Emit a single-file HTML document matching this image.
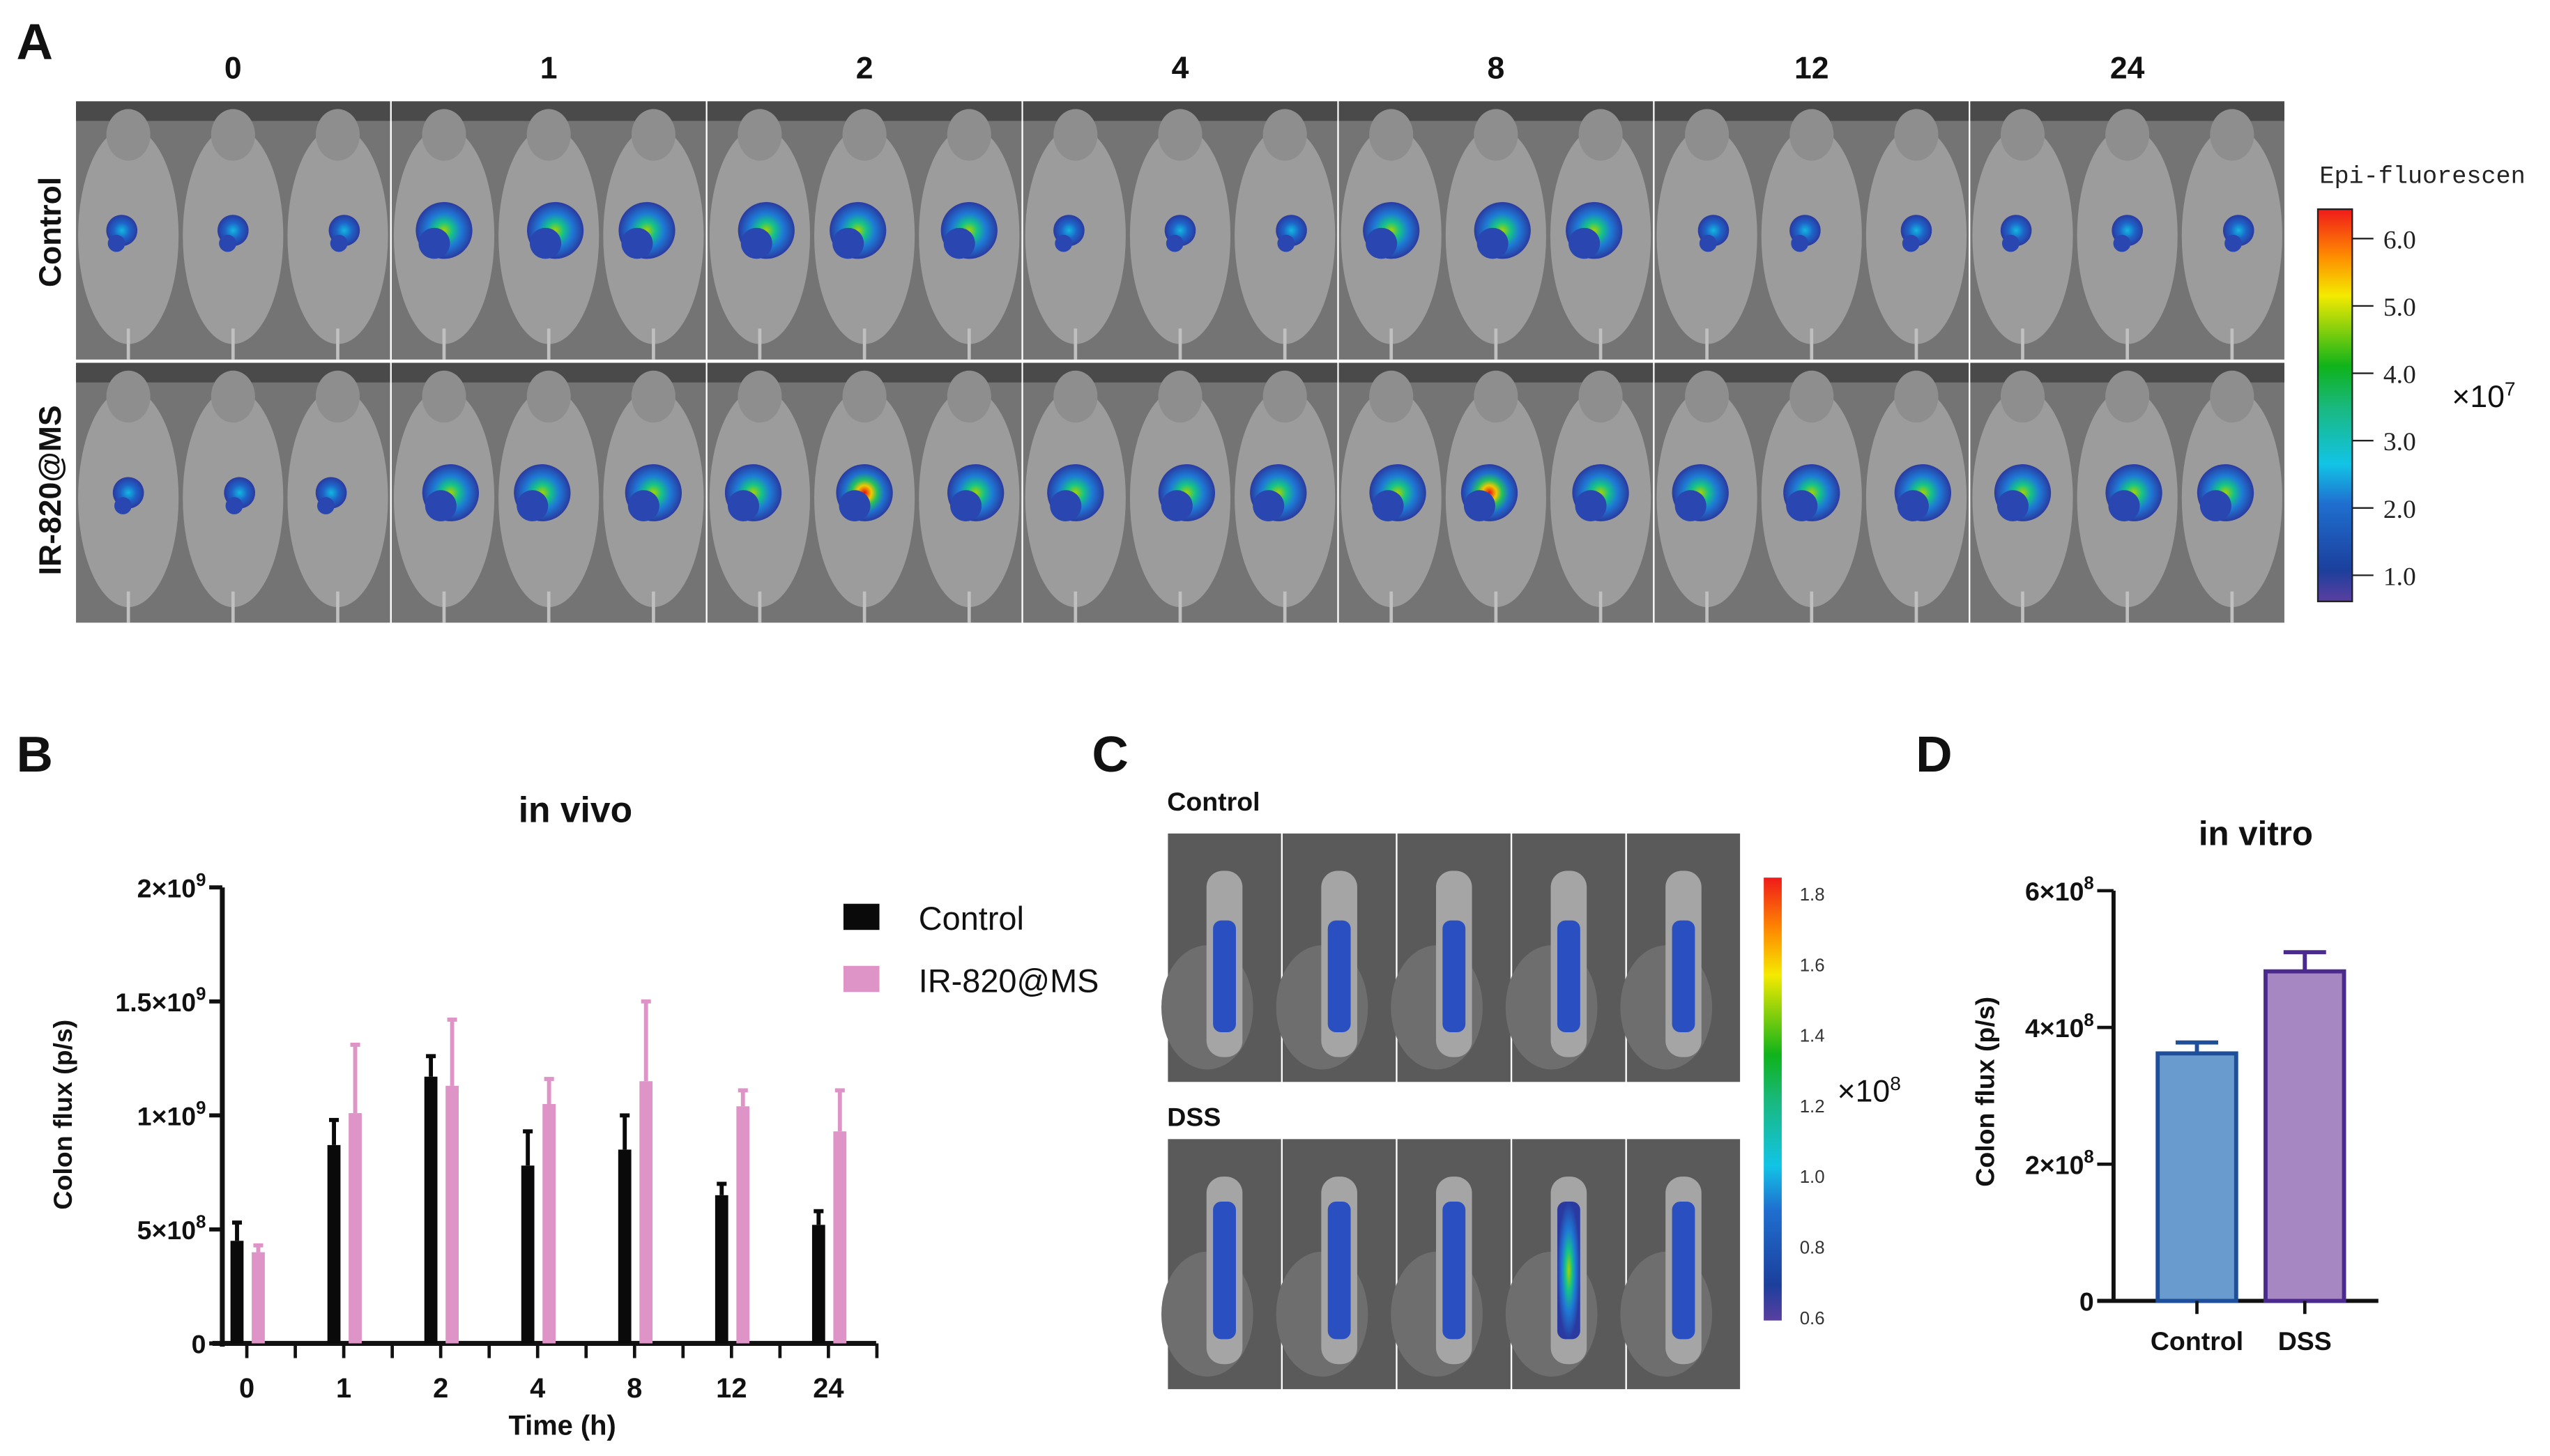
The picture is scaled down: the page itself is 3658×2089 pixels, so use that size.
<!DOCTYPE html>
<html><head><meta charset="utf-8">
<style>html,body{margin:0;padding:0;background:#fff}svg{display:block}</style></head>
<body>
<svg id="fig" width="3658" height="2089" viewBox="0 0 1560 890.9" preserveAspectRatio="none" xmlns="http://www.w3.org/2000/svg" font-family="Liberation Sans, Arial, sans-serif">
<defs>
<linearGradient id="cbar" x1="0" y1="1" x2="0" y2="0">
<stop offset="0" stop-color="#5a3fa0"/><stop offset="0.08" stop-color="#1c3f9c"/><stop offset="0.25" stop-color="#1f6fd0"/><stop offset="0.35" stop-color="#12c4e6"/><stop offset="0.5" stop-color="#19b87a"/><stop offset="0.6" stop-color="#0fb31a"/><stop offset="0.78" stop-color="#f4ea00"/><stop offset="0.88" stop-color="#ff8c00"/><stop offset="1" stop-color="#f01a1a"/></linearGradient>
<radialGradient id="blobLow"><stop offset="0" stop-color="#12b8e0"/><stop offset="0.5" stop-color="#1e64c8"/><stop offset="1" stop-color="#2a3aa0"/></radialGradient>
<radialGradient id="blobMid"><stop offset="0" stop-color="#a6d400"/><stop offset="0.3" stop-color="#14c28a"/><stop offset="0.6" stop-color="#1e7ad6"/><stop offset="1" stop-color="#2a3aa0"/></radialGradient>
<radialGradient id="blobHigh"><stop offset="0" stop-color="#e81010"/><stop offset="0.25" stop-color="#f0c800"/><stop offset="0.45" stop-color="#22c060"/><stop offset="0.7" stop-color="#1e70d0"/><stop offset="1" stop-color="#2a3aa0"/></radialGradient>
</defs>
<g id="panelA"></g>
<g id="panelB"></g>
<g id="panelC"></g>
<g id="panelD"></g>
</svg>
<script>
// ---- Panel B data ----
const timeLabels = ["0","1","2","4","8","12","24"];
const controlMeans = [0.45,0.87,1.17,0.78,0.85,0.65,0.52];
const controlErrs  = [0.08,0.11,0.09,0.15,0.15,0.05,0.06];
const irMeans = [0.40,1.01,1.13,1.05,1.15,1.04,0.93];
const irErrs  = [0.03,0.30,0.29,0.11,0.35,0.07,0.18];
const bTicks = [0,0.5,1,1.5,2];
const bTickBase = ["0","5×10","1×10","1.5×10","2×10"];
const bTickExp = ["","8","9","9","9"];
// ---- Panel D data ----
const dCats = ["Control","DSS"];
const dMeans = [3.62,4.82];
const dErrs = [0.16,0.28];
const dTicks = [0,2,4,6];
const dTickBase = ["0","2×10","4×10","6×10"];
const dTickExp = ["","8","8","8"];
// ---- Panel A data (signal level per cell: 0 none,1 low,2 mid,3 high) ----
const aTimes = ["0","1","2","4","8","12","24"];
const aControlLevels = [1,2,2,1,2,1,1];
const aIrLevels = [1,2,3,2,3,2,2];

const NS="http://www.w3.org/2000/svg";
function el(tag, attrs, parent, text){
  const e=document.createElementNS(NS,tag);
  for(const k in attrs) e.setAttribute(k,attrs[k]);
  if(text!==undefined) e.textContent=text;
  parent.appendChild(e); return e;
}
function supText(attrs,parent,base,exp,expSize){
  const t=el('text',attrs,parent);
  el('tspan',{},t,base);
  if(exp){ el('tspan',{dy:-7,'font-size':expSize},t,exp); }
  return t;
}
const svg=document.getElementById('fig');

[["A",10,36],["B",10,472],["C",668,472],["D",1172,472]].forEach(([t,x,y])=>{
  const e=el('text',{x:x,y:y,'font-size':31,'font-weight':'bold',fill:'#111'},svg,t);
  
  
});

// ---------- Panel A ----------
const A=document.getElementById('panelA');
const ax0=46, ax1=1398, ay0=62, ay1=381, aymid=221;
const cw=(ax1-ax0)/aTimes.length;
aTimes.forEach((t,i)=>{
  const lab=el('text',{x:ax0+cw*i+cw/2,y:48,'font-size':19,'font-weight':'bold','text-anchor':'middle',fill:'#111'},A,t);
  
  
});
function drawCell(x,y,w,h,level,seed){
  const g=el('g',{},A);
  
  
  el('rect',{x:x,y:y,width:w,height:h,fill:'#747474'},g);
  el('rect',{x:x,y:y,width:w,height:12,fill:'#4a4a4a'},g);
  for(let m=0;m<3;m++){
    const mx=x+w*(m*2+1)/6;
    el('ellipse',{cx:mx,cy:y+h*0.52,rx:w*0.16,ry:h*0.42,fill:'#9c9c9c'},g);
    el('ellipse',{cx:mx,cy:y+h*0.13,rx:w*0.07,ry:h*0.1,fill:'#8e8e8e'},g);
    el('rect',{x:mx-1,y:y+h*0.88,width:2,height:h*0.12,fill:'#c0c0c0'},g);
    if(level>0){
      const grad = level===3 && m===1 ? 'url(#blobHigh)' : (level>=2 ? 'url(#blobMid)' : 'url(#blobLow)');
      const r = level===1 ? 0.55 : 1;
      const ox=((seed+m)%3-1)*4;
      el('ellipse',{cx:mx+ox,cy:y+h*0.5,rx:w*0.09*r,ry:h*0.11*r,fill:grad,transform:'rotate(-25 '+(mx+ox)+' '+(y+h*0.5)+')'},g);
      el('ellipse',{cx:mx+ox-6*r,cy:y+h*0.55,rx:w*0.05*r,ry:h*0.06*r,fill:'#2a46b0'},g);
    }
  }
}
aTimes.forEach((t,i)=>{
  drawCell(ax0+cw*i+0.5,ay0,cw-1,aymid-ay0-1,aControlLevels[i],i);
  drawCell(ax0+cw*i+0.5,aymid+1,cw-1,ay1-aymid-1,aIrLevels[i],i+1);
});
let r1=el('text',{x:0,y:0,'font-size':19,'font-weight':'bold','text-anchor':'middle',fill:'#111',transform:'translate(37,142) rotate(-90)'},A,'Control');

let r2=el('text',{x:0,y:0,'font-size':19,'font-weight':'bold','text-anchor':'middle',fill:'#111',transform:'translate(37,300) rotate(-90)'},A,'IR-820@MS');

let cbt=el('text',{x:1419,y:112,'font-size':15,'font-family':'Liberation Mono, monospace',fill:'#222'},A,'Epi-fluorescen');

let cb=el('rect',{x:1418,y:128,width:21,height:240,fill:'url(#cbar)',stroke:'#222','stroke-width':1},A);

const cbVals=["6.0","5.0","4.0","3.0","2.0","1.0"];
cbVals.forEach((v,i)=>{
  const y=146+i*41.2;
  el('line',{x1:1439,x2:1452,y1:y,y2:y,stroke:'#222','stroke-width':1},A);
  const tx=el('text',{x:1458,y:y+6,'font-size':16,'font-family':'Liberation Serif, serif',fill:'#222'},A,v);
  
});
let ex=supText({x:1500,y:249,'font-size':19,fill:'#111'},A,'×10','7',12);


// ---------- Panel B ----------
const B=document.getElementById('panelB');
const bx0=136, by0=822, byTop=543, bMax=2;
const yB=v=>by0-(v/bMax)*(by0-byTop);
const gx0=151, gStep=59.3;
const xB=i=>gx0+i*gStep;
let bt=el('text',{x:352,y:503,'font-size':22,'font-weight':'bold','text-anchor':'middle',fill:'#111'},B,'in vivo');

el('line',{x1:bx0,x2:bx0,y1:byTop,y2:by0+2,stroke:'#111','stroke-width':3},B);
el('line',{x1:bx0-6,x2:536,y1:by0,y2:by0,stroke:'#111','stroke-width':3},B);
bTicks.forEach((v,i)=>{
  const y=yB(v);
  el('line',{x1:bx0-8,x2:bx0,y1:y,y2:y,stroke:'#111','stroke-width':2.5},B);
  const t=supText({x:bx0-10,y:y+6,'font-size':16,'font-weight':'bold','text-anchor':'end',fill:'#111'},B,bTickBase[i],bTickExp[i],11);
  
});
for(let i=0;i<=13;i++){
  const x=gx0+i*gStep/2;
  el('line',{x1:x,x2:x,y1:by0,y2:by0+9,stroke:'#111','stroke-width':2},B);
}
timeLabels.forEach((t,i)=>{
  const tx=el('text',{x:xB(i),y:855,'font-size':17,'font-weight':'bold','text-anchor':'middle',fill:'#111'},B,t);
  
});
let xt=el('text',{x:344,y:878,'font-size':17,'font-weight':'bold','text-anchor':'middle',fill:'#111'},B,'Time (h)');

let yt=el('text',{x:0,y:0,'font-size':16,'font-weight':'bold','text-anchor':'middle',fill:'#111',transform:'translate(44,682) rotate(-90)'},B,'Colon flux (p/s)');

const bw=8;
function barB(i,mean,err,color,dx,name){
  const x=xB(i)+dx;
  const r=el('rect',{x:x-bw/2,y:yB(mean),width:bw,height:by0-yB(mean),fill:color},B);
  
  
  el('line',{x1:x,x2:x,y1:yB(mean),y2:yB(mean+err),stroke:color,'stroke-width':2.5},B);
  el('line',{x1:x-3,x2:x+3,y1:yB(mean+err),y2:yB(mean+err),stroke:color,'stroke-width':2.5},B);
}
controlMeans.forEach((v,i)=>barB(i,v,controlErrs[i],'#0a0a0a',-6,'control'));
irMeans.forEach((v,i)=>barB(i,v,irErrs[i],'#de94c6',7,'ir820'));
let l1=el('rect',{x:516,y:553,width:22,height:16,fill:'#0a0a0a'},B);

let l1t=el('text',{x:562,y:569,'font-size':20,fill:'#111'},B,'Control');

let l2=el('rect',{x:516,y:591,width:22,height:16,fill:'#de94c6'},B);

let l2t=el('text',{x:562,y:607,'font-size':20,fill:'#111'},B,'IR-820@MS');


// ---------- Panel C ----------
const C=document.getElementById('panelC');
let c1=el('text',{x:714,y:496,'font-size':16,'font-weight':'bold',fill:'#111'},C,'Control');

let c2=el('text',{x:714,y:689,'font-size':16,'font-weight':'bold',fill:'#111'},C,'DSS');

const cx0=714, cx1=1065, ccw=(cx1-cx0)/5;
[[510,662],[697,850]].forEach(([y0,y1],row)=>{
  for(let i=0;i<5;i++){
    const x=cx0+i*ccw;
    const cell=el('g',{},C);
    
    
    el('rect',{x:x+0.5,y:y0,width:ccw-1,height:y1-y0,fill:'#5a5a5a'},cell);
    el('ellipse',{cx:x+ccw*0.35,cy:y0+(y1-y0)*0.7,rx:ccw*0.4,ry:(y1-y0)*0.25,fill:'#6e6e6e'},cell);
    el('rect',{x:x+ccw/2-11,y:y0+(y1-y0)*0.15,width:22,height:(y1-y0)*0.75,rx:10,fill:'#a5a5a5'},cell);
    el('rect',{x:x+ccw/2-7,y:y0+(y1-y0)*(row?0.25:0.35),width:14,height:(y1-y0)*(row?0.55:0.45),rx:5,fill:row&&i===3?'url(#blobMid)':'#2a4fc0'},cell);
  }
});
let cb2=el('rect',{x:1079,y:537,width:11,height:271,fill:'url(#cbar)'},C);

const cVals=["1.8","1.6","1.4","1.2","1.0","0.8","0.6"];
cVals.forEach((v,i)=>{
  const y=547+i*43.2;
  const t=el('text',{x:1101,y:y+4,'font-size':11,fill:'#333'},C,v);
  
});
let ex2=supText({x:1124,y:674,'font-size':19,fill:'#111'},C,'×10','8',12);


// ---------- Panel D ----------
const D=document.getElementById('panelD');
const dx0=1293, dy0=796, dyTop=545, dMax=6;
const yD=v=>dy0-(v/dMax)*(dy0-dyTop);
const dCenters=[1344,1410], dW=50;
const dFill=['#6a9bcf','#a787c2'], dStroke=['#1f4f9a','#4b2a8e'];
let dt=el('text',{x:1380,y:517,'font-size':21,'font-weight':'bold','text-anchor':'middle',fill:'#111'},D,'in vitro');

el('line',{x1:dx0,x2:dx0,y1:dyTop,y2:dy0+1,stroke:'#111','stroke-width':2.5},D);
el('line',{x1:dx0-10,x2:1455,y1:dy0,y2:dy0,stroke:'#111','stroke-width':2.5},D);
dTicks.forEach((v,i)=>{
  const y=yD(v);
  el('line',{x1:dx0-10,x2:dx0,y1:y,y2:y,stroke:'#111','stroke-width':2},D);
  const t=supText({x:dx0-12,y:y+6,'font-size':16,'font-weight':'bold','text-anchor':'end',fill:'#111'},D,dTickBase[i],dTickExp[i],11);
  
});
let dyt=el('text',{x:0,y:0,'font-size':16,'font-weight':'bold','text-anchor':'middle',fill:'#111',transform:'translate(1220,668) rotate(-90)'},D,'Colon flux (p/s)');

dCats.forEach((c,i)=>{
  const x=dCenters[i];
  const r=el('rect',{x:x-dW/2+1,y:yD(dMeans[i]),width:dW-2,height:dy0-yD(dMeans[i]),fill:dFill[i],stroke:dStroke[i],'stroke-width':2.5},D);
  
  
  el('line',{x1:x,x2:x,y1:yD(dMeans[i]),y2:yD(dMeans[i]+dErrs[i]),stroke:dStroke[i],'stroke-width':2.5},D);
  el('line',{x1:x-13,x2:x+13,y1:yD(dMeans[i]+dErrs[i]),y2:yD(dMeans[i]+dErrs[i]),stroke:dStroke[i],'stroke-width':2.5},D);
  el('line',{x1:x,x2:x,y1:dy0,y2:dy0+8,stroke:'#111','stroke-width':2},D);
  const t=el('text',{x:x,y:826,'font-size':16,'font-weight':'bold','text-anchor':'middle',fill:'#111'},D,c);
  
});
</script>
</body></html>
